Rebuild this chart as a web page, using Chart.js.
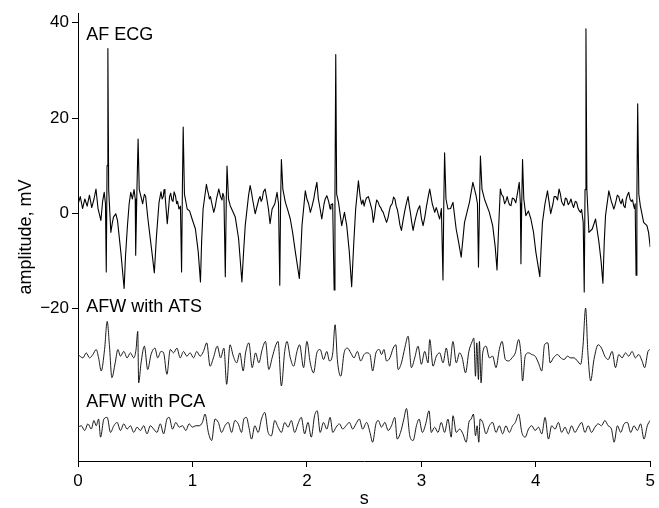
<!DOCTYPE html>
<html>
<head>
<meta charset="utf-8">
<script src="https://cdn.jsdelivr.net/npm/chart.js@4.4.1/dist/chart.umd.min.js"></script>
<style>
html,body{margin:0;padding:0;background:#fff;}
canvas{display:block;}
</style>
</head>
<body>
<canvas id="c" width="659" height="508"></canvas>
<script>
// ---- data ----
const xTicks = [0, 1, 2, 3, 4, 5];
const yTicks = [-20, 0, 20, 40];
const seriesLabels = ['AF ECG', 'AFW with ATS', 'AFW with PCA'];
const xTitle = 's';
const yTitle = 'amplitude, mV';

const ecgTime = [0.0,0.02,0.04,0.06,0.08,0.10,0.12,0.14,0.157,0.175,0.2,0.215,0.229,0.24,0.247,0.254,0.261,0.268,0.287,0.3,0.31,0.33,0.345,0.374,0.403,0.415,0.432,0.447,0.461,0.475,0.49,0.5,0.504,0.515,0.525,0.535,0.548,0.565,0.58,0.591,0.61,0.63,0.65,0.667,0.685,0.708,0.725,0.735,0.745,0.752,0.76,0.768,0.78,0.795,0.8,0.81,0.82,0.83,0.84,0.852,0.862,0.87,0.882,0.895,0.905,0.912,0.919,0.93,0.954,0.975,0.997,1.026,1.05,1.07,1.08,1.093,1.122,1.13,1.14,1.148,1.157,1.17,1.186,1.2,1.21,1.22,1.23,1.245,1.258,1.265,1.275,1.287,1.295,1.302,1.315,1.33,1.374,1.403,1.432,1.447,1.461,1.49,1.504,1.515,1.525,1.548,1.57,1.58,1.591,1.6,1.61,1.62,1.635,1.65,1.664,1.678,1.696,1.72,1.739,1.752,1.763,1.77,1.777,1.79,1.812,1.835,1.855,1.875,1.899,1.934,1.945,1.957,1.986,2.0,2.015,2.03,2.045,2.06,2.07,2.087,2.1,2.115,2.13,2.15,2.16,2.174,2.19,2.203,2.21,2.225,2.238,2.245,2.252,2.26,2.276,2.304,2.328,2.348,2.37,2.391,2.41,2.426,2.45,2.465,2.478,2.49,2.5,2.51,2.52,2.537,2.55,2.56,2.57,2.58,2.59,2.6,2.61,2.623,2.635,2.645,2.655,2.667,2.68,2.696,2.708,2.72,2.73,2.745,2.757,2.769,2.78,2.79,2.8,2.813,2.826,2.84,2.855,2.87,2.884,2.895,2.905,2.915,2.928,2.94,2.955,2.97,2.986,3.0,3.015,3.03,3.045,3.06,3.073,3.085,3.095,3.105,3.117,3.13,3.14,3.15,3.16,3.175,3.189,3.196,3.203,3.215,3.232,3.255,3.276,3.304,3.325,3.348,3.377,3.42,3.45,3.478,3.49,3.499,3.508,3.516,3.53,3.551,3.594,3.623,3.645,3.661,3.675,3.69,3.7,3.715,3.727,3.739,3.75,3.76,3.77,3.783,3.795,3.81,3.825,3.841,3.855,3.865,3.87,3.877,3.884,3.895,3.913,3.935,3.957,3.98,4.0,4.035,4.045,4.058,4.08,4.102,4.115,4.13,4.14,4.15,4.16,4.175,4.19,4.203,4.215,4.225,4.235,4.246,4.258,4.27,4.283,4.295,4.307,4.319,4.33,4.345,4.357,4.37,4.38,4.391,4.4,4.414,4.423,4.43,4.438,4.446,4.464,4.493,4.522,4.551,4.57,4.586,4.598,4.609,4.638,4.65,4.66,4.67,4.681,4.69,4.7,4.712,4.725,4.735,4.745,4.757,4.768,4.78,4.79,4.8,4.812,4.823,4.835,4.845,4.855,4.862,4.868,4.876,4.883,4.89,4.9,4.913,4.942,4.971,4.985,5.0];
const ecgValues = [1.9,3.5,1.0,3.0,1.5,3.8,1.2,3.0,5.1,1.0,-1.5,2.5,4.4,2.0,-12.3,10,34.6,5,-4,-2,-0.8,-0.1,-1.5,-8.1,-15.8,-9,-2.6,2,4.4,3,5,3,-8.8,5,15.6,5,3.7,2,4,3.5,-1,-5,-9,-12.5,-5,2.3,4.5,3.0,3.5,5.0,4,1.5,-2.2,2,3.5,4.2,2.8,2.5,4.5,3.6,2.0,2.5,0.9,1.5,-12.3,5,18.1,4,0.9,0.5,-1.2,-3.3,-8,-14.4,-6,0.9,6.1,5,4,3,3.5,2,0.2,1.5,3,4,5.1,3.5,2.8,4.2,3.5,-13.3,2,9.9,3,1.6,-0.8,-5.3,-14.4,-8,-2.6,3.7,5.8,4.5,3,-0.1,2,3,3.5,2.5,3,4.5,5.1,3,0.9,-2.2,0.9,2,4.4,2,-15.1,2,11.3,5,2.3,0.5,-1.2,-4,-8.1,-13.7,-9,-2.6,4.7,3,2,0.2,1.5,3,4.5,6.5,3,1,-1.2,2,3,3.7,2.5,0.9,1.8,2,-16.1,3,33.3,4,2.3,-2.6,0.2,-2.6,-8,-15.4,-6,0.9,6.8,3.5,1.9,2.8,1.5,2.5,3.2,3.5,2.4,1.5,0.5,-1.9,-0.5,1.5,2.8,2.3,1.5,1.2,0.6,0.2,-0.8,-1.9,-1,0.5,1.5,2,3.4,3,1.5,0.8,-0.5,-2.5,-3.6,-1.5,0.5,2.2,3.5,1.5,0,-1.8,-3.6,-2,-0.5,0.8,1.6,-1,-2.6,-0.8,1.5,3.5,5.1,3.4,2,1.2,0.2,1.2,0.5,-0.5,-1.2,1,-14,2,12.7,3,0.9,1,2.3,-3.3,-6,-9.2,-1.9,2.3,6.5,3.7,2,-11.3,2,12,5,3,0.2,-2.6,-7,-11.9,-3,5.1,4,3.5,2,2.6,3.5,2.5,1.8,1.6,3.2,3,2.2,4.4,6.5,2,-10.6,2,11.3,3,-0.5,0.5,-1.2,-4,-8.1,-13.3,-8,-1.9,2,4.7,2.5,-0.1,1,2,3.5,3.5,2.8,5.1,4,2.5,2,1.6,3.2,3,1.8,2.2,3,1.9,1.2,2.5,2.3,1,0.5,0.2,0.8,-1.9,-16.5,5,38.75,5,-4,-3.3,-1.2,-6,-10,-14.7,-6,-0.5,4.7,3.5,2.5,1.8,0.9,1.5,2.5,3.8,3.5,2.5,2,3,1.6,1.2,3,3.8,4.4,3,2.5,2.8,1.6,1,2,-13,3,23,4,1.6,-1.9,-2.6,-4,-7.1];

const atsTime = [0.0,0.043,0.072,0.101,0.13,0.159,0.18,0.203,0.232,0.255,0.275,0.296,0.325,0.348,0.371,0.4,0.429,0.458,0.487,0.507,0.522,0.53,0.551,0.58,0.609,0.638,0.672,0.696,0.725,0.748,0.777,0.806,0.835,0.864,0.893,0.922,0.951,0.98,1.009,1.038,1.067,1.096,1.125,1.154,1.183,1.217,1.246,1.275,1.299,1.328,1.357,1.386,1.414,1.443,1.464,1.493,1.522,1.551,1.58,1.609,1.638,1.667,1.696,1.725,1.748,1.777,1.806,1.826,1.855,1.884,1.913,1.936,1.971,2.0,2.029,2.058,2.087,2.116,2.145,2.174,2.197,2.226,2.246,2.267,2.296,2.325,2.354,2.383,2.412,2.441,2.47,2.499,2.522,2.551,2.574,2.603,2.632,2.652,2.673,2.696,2.725,2.754,2.777,2.797,2.826,2.855,2.884,2.913,2.942,2.971,3.0,3.029,3.058,3.073,3.102,3.131,3.16,3.189,3.218,3.247,3.276,3.305,3.334,3.357,3.386,3.415,3.444,3.458,3.473,3.484,3.499,3.507,3.522,3.536,3.565,3.594,3.623,3.652,3.681,3.705,3.734,3.763,3.792,3.821,3.85,3.87,3.884,3.907,3.936,3.965,3.994,4.023,4.052,4.076,4.105,4.125,4.154,4.189,4.218,4.247,4.276,4.305,4.334,4.363,4.392,4.412,4.435,4.455,4.479,4.508,4.545,4.574,4.603,4.632,4.667,4.696,4.725,4.754,4.783,4.812,4.841,4.87,4.899,4.928,4.951,4.98,4.997];
const atsValues = [-29.65,-30.35,-29.3,-30.35,-29.65,-28.6,-30.35,-33.1,-28.6,-22.7,-27.9,-34.5,-31.4,-28.6,-30.0,-29.0,-30.35,-29.3,-30.35,-28.6,-24.8,-35.6,-31.4,-27.9,-32.8,-29.65,-28.3,-30.35,-29.0,-29.3,-33.8,-28.6,-29.3,-28.3,-30.35,-29.0,-30.0,-29.3,-30.35,-29.0,-30.0,-29.0,-27.2,-32.1,-30.35,-27.9,-30.35,-28.3,-35.9,-27.6,-30.0,-31.4,-29.3,-33.1,-29.3,-27.2,-32.4,-29.3,-31.4,-28.6,-26.9,-32.8,-30.35,-27.9,-26.9,-36.25,-29.0,-26.9,-30.35,-32.1,-29.0,-27.6,-32.4,-26.9,-31.4,-33.5,-29.3,-28.6,-30.7,-29.0,-31.0,-29.3,-23.4,-31.0,-34.2,-29.3,-28.3,-29.3,-30.35,-29.0,-31.0,-29.65,-29.3,-29.65,-33.1,-29.3,-28.6,-29.65,-28.6,-31.0,-30.35,-28.3,-27.6,-32.8,-31.4,-28.3,-25.8,-32.4,-30.35,-27.9,-31.7,-29.0,-31.4,-26.5,-32.1,-30.0,-29.3,-31.4,-28.3,-32.1,-26.9,-31.4,-29.3,-30.35,-33.5,-29.0,-26.9,-26.2,-34.2,-27.2,-34.9,-26.9,-35.6,-29.3,-27.9,-30.35,-30.0,-32.4,-28.6,-26.9,-30.7,-31.0,-30.35,-29.3,-26.5,-29.65,-35.2,-30.0,-29.3,-29.65,-30.0,-31.4,-33.1,-27.6,-27.2,-31.4,-30.35,-29.65,-30.35,-30.7,-30.0,-30.35,-30.35,-31.0,-31.7,-27.9,-19.9,-29.3,-35.2,-30.7,-27.6,-28.3,-30.0,-30.7,-29.0,-32.4,-29.65,-30.35,-29.3,-30.0,-29.0,-30.35,-29.65,-31.0,-32.4,-29.0,-28.6];

const pcaTime = [0.0,0.029,0.058,0.087,0.116,0.139,0.159,0.18,0.197,0.226,0.255,0.284,0.313,0.342,0.371,0.4,0.429,0.458,0.487,0.516,0.545,0.574,0.603,0.632,0.661,0.69,0.719,0.748,0.777,0.797,0.826,0.855,0.884,0.913,0.942,0.971,1.0,1.029,1.058,1.087,1.11,1.139,1.168,1.197,1.226,1.255,1.284,1.313,1.342,1.371,1.4,1.429,1.449,1.472,1.493,1.516,1.545,1.574,1.603,1.632,1.661,1.69,1.719,1.748,1.777,1.806,1.835,1.864,1.893,1.922,1.951,1.98,2.009,2.038,2.067,2.09,2.116,2.145,2.174,2.203,2.226,2.255,2.284,2.313,2.342,2.371,2.4,2.429,2.458,2.487,2.522,2.551,2.574,2.603,2.623,2.652,2.681,2.71,2.739,2.768,2.789,2.818,2.847,2.87,2.899,2.928,2.957,2.98,3.009,3.038,3.067,3.087,3.116,3.145,3.174,3.203,3.232,3.261,3.276,3.305,3.334,3.363,3.392,3.415,3.435,3.455,3.473,3.487,3.502,3.513,3.536,3.565,3.594,3.623,3.652,3.681,3.71,3.739,3.768,3.797,3.821,3.85,3.878,3.907,3.936,3.965,3.994,4.023,4.052,4.081,4.11,4.139,4.168,4.197,4.226,4.255,4.284,4.313,4.342,4.371,4.4,4.429,4.458,4.487,4.516,4.545,4.574,4.603,4.632,4.661,4.684,4.713,4.742,4.771,4.8,4.829,4.858,4.887,4.916,4.945,4.974,4.997];
const pcaValues = [-44.9,-44.6,-45.6,-44.2,-45.3,-43.5,-44.6,-43.2,-47.0,-43.2,-42.85,-46.0,-44.6,-43.9,-45.6,-44.2,-45.3,-44.6,-46.0,-44.9,-45.6,-44.6,-46.3,-44.6,-45.3,-46.0,-44.2,-46.3,-43.2,-42.85,-45.3,-43.9,-44.9,-44.6,-45.6,-44.2,-44.9,-44.6,-44.6,-43.9,-42.15,-46.0,-47.7,-43.2,-43.9,-46.0,-44.6,-43.9,-46.0,-43.5,-44.2,-46.0,-43.2,-42.85,-44.9,-47.4,-44.6,-46.0,-43.2,-41.8,-46.0,-46.7,-43.5,-44.9,-46.0,-43.9,-44.9,-43.5,-46.0,-44.2,-42.85,-46.3,-43.9,-47.0,-42.5,-41.46,-46.0,-43.9,-45.3,-42.85,-46.0,-44.9,-44.2,-45.3,-44.6,-43.9,-45.3,-44.2,-43.2,-45.3,-43.9,-46.0,-48.06,-44.2,-43.5,-44.9,-43.9,-45.6,-44.6,-42.85,-47.4,-46.0,-43.2,-40.97,-46.7,-47.7,-44.6,-43.2,-46.0,-44.2,-41.46,-46.0,-44.9,-46.0,-43.9,-46.0,-43.2,-47.0,-42.5,-46.0,-45.3,-46.3,-48.06,-43.9,-43.2,-42.15,-46.7,-44.6,-48.06,-43.2,-43.9,-46.3,-44.6,-43.9,-46.0,-44.6,-46.3,-44.6,-46.0,-44.6,-43.9,-42.15,-46.0,-47.0,-45.3,-44.6,-45.6,-44.9,-46.3,-42.85,-47.4,-44.6,-45.3,-43.9,-46.0,-44.9,-46.3,-44.6,-46.0,-44.9,-43.9,-46.0,-44.6,-46.0,-44.9,-44.2,-44.6,-43.5,-44.6,-45.3,-48.06,-44.6,-46.0,-44.2,-43.9,-46.0,-44.6,-45.6,-44.2,-47.4,-44.6,-43.5];

// ---- chart ----
const FONT = '"Liberation Sans", Arial, Helvetica, sans-serif';
const toPoints = (ts, vs) => ts.map((t, i) => ({x: t, y: vs[i]}));

const textPlugin = {
  id: 'texts',
  afterDraw(chart) {
    const c = chart.ctx;
    const xs = chart.scales.x, ys = chart.scales.y;
    c.save();
    c.fillStyle = '#000';
    c.font = '18px ' + FONT;
    c.textAlign = 'left';
    c.textBaseline = 'alphabetic';
    const lx = xs.getPixelForValue(0.073);
    c.fillText(seriesLabels[0], lx, ys.getPixelForValue(36.3));
    c.fillText(seriesLabels[1], lx, ys.getPixelForValue(-20.8));
    c.fillText(seriesLabels[2], lx, ys.getPixelForValue(-40.6));
    c.textAlign = 'center';
    c.fillText(xTitle, (xs.left + xs.right) / 2, 504);
    c.translate(31, (ys.top + ys.bottom) / 2);
    c.rotate(-Math.PI / 2);
    c.fillText(yTitle, 0, 0);
    c.restore();
  }
};

const ecgStyle = {pointRadius: 0, tension: 0, fill: false, borderColor: '#000', borderWidth: 1.1, borderJoinStyle: 'round'};
const afwStyle = {pointRadius: 0, fill: false, borderColor: '#000', borderWidth: 0.9, cubicInterpolationMode: 'monotone', borderJoinStyle: 'round'};

new Chart(document.getElementById('c'), {
  type: 'line',
  data: {
    datasets: [
      Object.assign({label: seriesLabels[0], data: toPoints(ecgTime, ecgValues)}, ecgStyle),
      Object.assign({label: seriesLabels[1], data: toPoints(atsTime, atsValues)}, afwStyle),
      Object.assign({label: seriesLabels[2], data: toPoints(pcaTime, pcaValues)}, afwStyle)
    ]
  },
  options: {
    responsive: false,
    animation: false,
    layout: {padding: {top: 9, right: 6, left: 0, bottom: 0}},
    plugins: {legend: {display: false}, tooltip: {enabled: false}},
    scales: {
      x: {
        type: 'linear', min: 0, max: 5,
        afterFit(s) { s.height = 47; },
        afterBuildTicks(s) { s.ticks = xTicks.map(v => ({value: v})); },
        ticks: {color: '#000', font: {size: 17, family: FONT}, padding: 4, maxRotation: 0, autoSkip: false},
        grid: {drawOnChartArea: false, tickLength: 6, color: '#000'},
        border: {color: '#000', width: 1}
      },
      y: {
        type: 'linear', min: -52, max: 42,
        afterFit(s) { s.width = 78; },
        afterBuildTicks(s) { s.ticks = yTicks.map(v => ({value: v})); },
        ticks: {
          color: '#000', font: {size: 17, family: FONT}, padding: 3, autoSkip: false,
          callback: v => (v < 0 ? '\u2212' + Math.abs(v) : String(v))
        },
        grid: {drawOnChartArea: false, tickLength: 6, color: '#000'},
        border: {color: '#000', width: 1}
      }
    }
  },
  plugins: [textPlugin]
});
</script>
</body>
</html>
